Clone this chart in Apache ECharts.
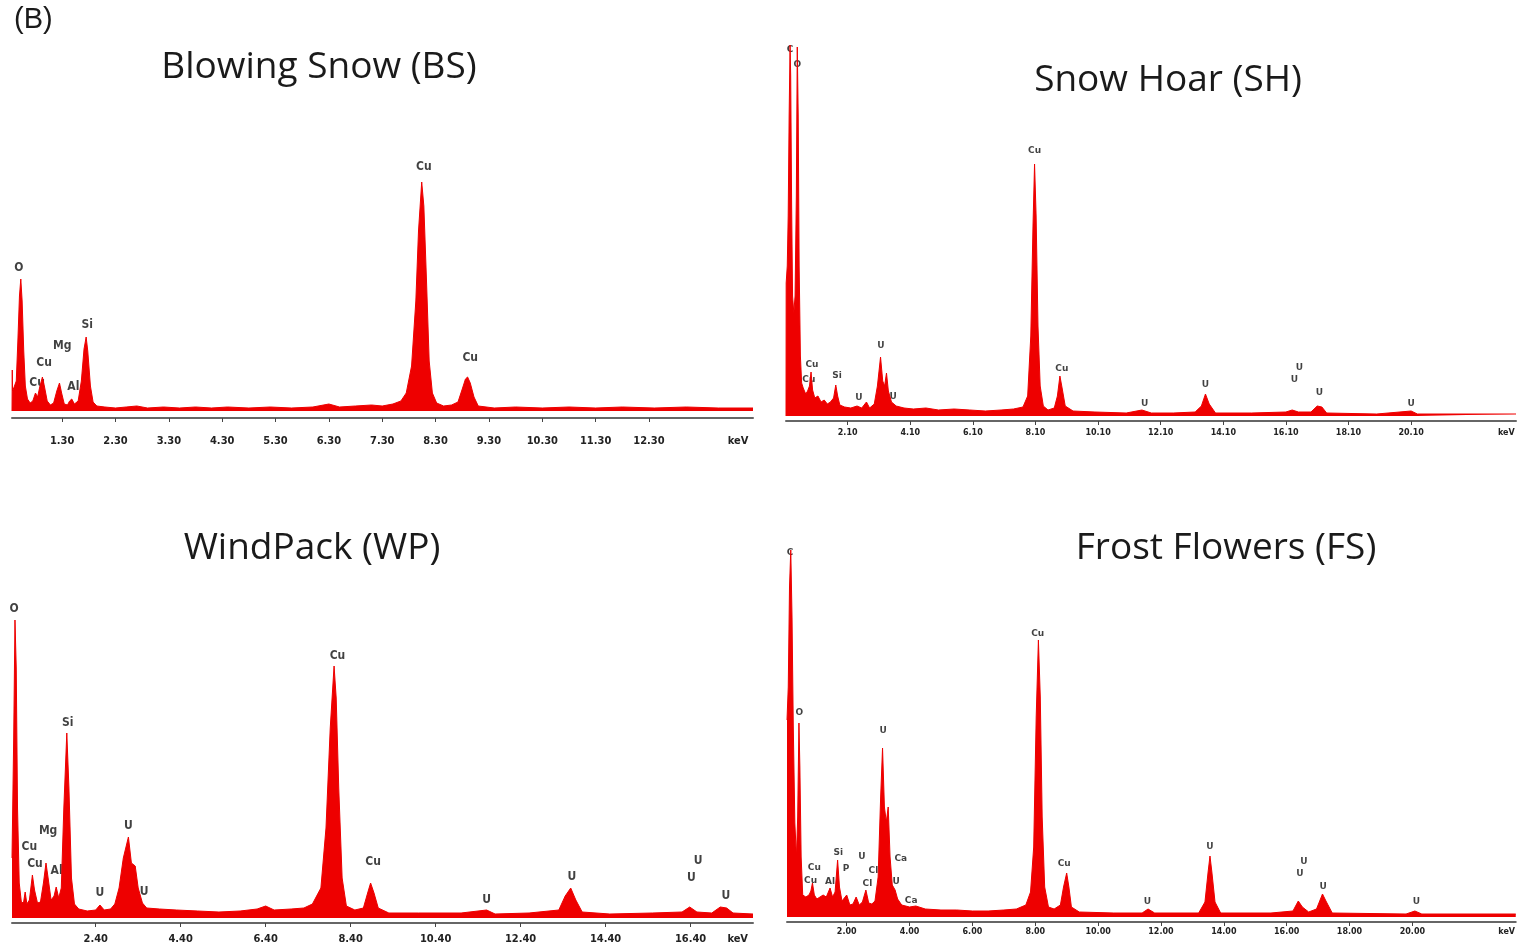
<!DOCTYPE html>
<html>
<head>
<meta charset="utf-8">
<title>EDS spectra</title>
<script src="https://cdn.jsdelivr.net/npm/echarts@6/dist/echarts.min.js"></script>
<style>
  html, body { margin: 0; padding: 0; background: #fff; }
  #main { width: 1518px; height: 950px; }
</style>
</head>
<body>
<div id="main"></div>
<script>
// spectra: [keV, counts] (counts = height above baseline)
const bsSpectrum = [
  [0.36, 0], [0.365, 41], [0.37, 20], [0.40, 24], [0.44, 30], [0.47, 70], [0.50, 115], [0.525, 132],
  [0.55, 110], [0.58, 60], [0.61, 25], [0.65, 12], [0.70, 8], [0.75, 10], [0.80, 18], [0.84, 14],
  [0.88, 24], [0.93, 34], [0.97, 24], [1.02, 10], [1.08, 6], [1.14, 8], [1.20, 20], [1.25, 28],
  [1.29, 18], [1.34, 7], [1.40, 6], [1.44, 10], [1.48, 12], [1.53, 7], [1.60, 10], [1.66, 30],
  [1.71, 62], [1.75, 74], [1.78, 60], [1.83, 25], [1.88, 9], [1.95, 5], [2.1, 4], [2.3, 3], [2.5, 4],
  [2.7, 5], [2.9, 3], [3.2, 4], [3.5, 3], [3.8, 4], [4.1, 3], [4.4, 4], [4.8, 3], [5.2, 4], [5.6, 3],
  [6.0, 4], [6.3, 7], [6.5, 4], [6.8, 5], [7.1, 6], [7.3, 5], [7.5, 7], [7.65, 10], [7.75, 18],
  [7.85, 45], [7.93, 110], [7.98, 180], [8.04, 229], [8.08, 205], [8.13, 130], [8.18, 50], [8.24, 18],
  [8.32, 8], [8.45, 5], [8.6, 6], [8.72, 9], [8.8, 22], [8.86, 32], [8.9, 34], [8.95, 28], [9.02, 14],
  [9.1, 5], [9.4, 3], [9.8, 4], [10.3, 3], [10.8, 4], [11.3, 3], [11.8, 4], [12.4, 3], [13.0, 4],
  [13.6, 3], [14.25, 3]
]
const shSpectrum = [
  [0.13, 0], [0.135, 133], [0.17, 150], [0.2, 200], [0.23, 300], [0.26, 371], [0.28, 340], [0.31, 210],
  [0.34, 120], [0.38, 103], [0.42, 120], [0.46, 220], [0.49, 369], [0.52, 300], [0.55, 150], [0.59, 60],
  [0.63, 33], [0.68, 28], [0.72, 30], [0.76, 22], [0.82, 25], [0.88, 30], [0.93, 44], [0.98, 26],
  [1.05, 18], [1.15, 20], [1.25, 14], [1.35, 16], [1.45, 12], [1.55, 14], [1.65, 18], [1.72, 31],
  [1.78, 20], [1.85, 11], [2.0, 9], [2.2, 8], [2.4, 10], [2.55, 8], [2.7, 14], [2.8, 8], [2.95, 12],
  [3.05, 30], [3.15, 59], [3.22, 35], [3.28, 30], [3.34, 43], [3.4, 25], [3.5, 14], [3.65, 10],
  [3.9, 8], [4.2, 7], [4.6, 8], [5.0, 6], [5.5, 7], [6.0, 6], [6.5, 5], [7.0, 6], [7.4, 7], [7.7, 9],
  [7.85, 20], [7.95, 80], [8.02, 190], [8.07, 252], [8.12, 200], [8.18, 90], [8.25, 30], [8.35, 10],
  [8.5, 6], [8.7, 8], [8.8, 20], [8.88, 40], [8.95, 28], [9.05, 10], [9.3, 5], [10.0, 4], [11.0, 3],
  [11.5, 6], [11.8, 3], [12.5, 3], [13.2, 4], [13.4, 10], [13.53, 22], [13.65, 12], [13.85, 3],
  [15.0, 3], [16.1, 4], [16.3, 6], [16.5, 4], [16.9, 4], [17.1, 10], [17.25, 9], [17.4, 3], [19.0, 2],
  [20.1, 5], [20.3, 2], [23.45, 2]
]
const wpSpectrum = [
  [0.43, 60], [0.47, 180], [0.50, 298], [0.53, 250], [0.56, 110], [0.60, 35], [0.65, 16], [0.70, 15],
  [0.74, 26], [0.78, 14], [0.84, 18], [0.91, 43], [0.96, 28], [1.03, 15], [1.10, 16], [1.17, 35],
  [1.23, 55], [1.28, 40], [1.35, 18], [1.42, 22], [1.47, 31], [1.53, 20], [1.59, 30], [1.65, 110],
  [1.72, 185], [1.77, 130], [1.83, 40], [1.9, 14], [2.0, 9], [2.2, 7], [2.4, 8], [2.5, 13], [2.6, 8],
  [2.75, 9], [2.85, 14], [2.95, 30], [3.05, 60], [3.17, 81], [3.24, 55], [3.33, 52], [3.4, 30],
  [3.5, 15], [3.6, 10], [3.9, 9], [4.3, 8], [4.8, 7], [5.3, 6], [5.8, 7], [6.2, 9], [6.4, 12], [6.6, 8],
  [7.0, 9], [7.3, 10], [7.5, 14], [7.7, 30], [7.82, 90], [7.92, 190], [8.01, 252], [8.06, 220],
  [8.12, 130], [8.2, 40], [8.3, 12], [8.5, 8], [8.7, 10], [8.8, 25], [8.87, 35], [8.95, 25], [9.05, 10],
  [9.3, 5], [10.0, 5], [11.0, 5], [11.6, 8], [11.8, 4], [12.6, 5], [13.3, 8], [13.45, 22], [13.58, 30],
  [13.7, 18], [13.85, 6], [14.5, 4], [15.5, 5], [16.2, 6], [16.38, 11], [16.55, 6], [16.9, 5],
  [17.1, 11], [17.25, 10], [17.4, 5], [17.87, 4]
]
const fsSpectrum = [
  [0.1, 197], [0.14, 230], [0.18, 330], [0.22, 367], [0.26, 300], [0.3, 190], [0.35, 94], [0.4, 60],
  [0.44, 100], [0.48, 194], [0.51, 150], [0.55, 60], [0.6, 22], [0.7, 20], [0.8, 22], [0.86, 26],
  [0.91, 34], [0.97, 22], [1.05, 18], [1.15, 20], [1.25, 22], [1.35, 20], [1.47, 29], [1.55, 20],
  [1.63, 25], [1.71, 57], [1.77, 30], [1.85, 16], [2.0, 22], [2.1, 12], [2.2, 13], [2.3, 20], [2.4, 12],
  [2.5, 15], [2.61, 27], [2.7, 14], [2.8, 13], [2.9, 16], [3.0, 40], [3.08, 120], [3.14, 169],
  [3.2, 110], [3.26, 95], [3.32, 110], [3.38, 60], [3.45, 32], [3.54, 27], [3.62, 18], [3.75, 12],
  [4.0, 10], [4.2, 11], [4.5, 8], [5.0, 7], [5.5, 7], [6.0, 6], [6.5, 6], [7.0, 7], [7.4, 8], [7.7, 12],
  [7.85, 25], [7.95, 70], [8.03, 200], [8.1, 277], [8.16, 220], [8.22, 100], [8.3, 30], [8.42, 10],
  [8.6, 8], [8.8, 12], [8.9, 30], [9.0, 44], [9.07, 30], [9.15, 10], [9.4, 5], [10.5, 4], [11.4, 4],
  [11.59, 8], [11.8, 4], [13.2, 4], [13.4, 15], [13.5, 45], [13.56, 61], [13.62, 45], [13.72, 15],
  [13.9, 4], [15.5, 4], [16.2, 6], [16.37, 16], [16.5, 10], [16.7, 5], [16.95, 8], [17.14, 23],
  [17.25, 16], [17.45, 4], [19.8, 3], [20.08, 6], [20.3, 3], [23.29, 3]
]

// peak labels: [keV, counts, element]
const bsPeaks = [
  [0.49, 143, 'O'], [0.96, 48, 'Cu'], [0.83, 28, 'Cu'], [1.30, 65, 'Mg'], [1.51, 24, 'Al'],
  [1.77, 86, 'Si'], [8.08, 244, 'Cu'], [8.95, 53, 'Cu']
]
const shPeaks = [
  [0.26, 366, 'C'], [0.49, 351, 'O'], [0.96, 51, 'Cu'], [0.86, 36, 'Cu'], [1.76, 40, 'Si'],
  [2.46, 18, 'U'], [3.16, 70, 'U'], [3.55, 19, 'U'], [8.07, 265, 'Cu'], [8.94, 47, 'Cu'],
  [11.59, 12, 'U'], [13.53, 31, 'U'], [16.37, 36, 'U'], [16.53, 48, 'U'], [17.17, 23, 'U'], [20.1, 12, 'U']
]
const wpPeaks = [
  [0.48, 309, 'O'], [0.84, 71, 'Cu'], [0.97, 54, 'Cu'], [1.28, 87, 'Mg'], [1.48, 47, 'Al'],
  [1.74, 195, 'Si'], [2.5, 25, 'U'], [3.17, 92, 'U'], [3.54, 26, 'U'], [8.09, 262, 'Cu'],
  [8.93, 56, 'Cu'], [11.6, 18, 'U'], [13.61, 41, 'U'], [16.42, 40, 'U'], [16.58, 57, 'U'], [17.23, 22, 'U']
]
const fsPeaks = [
  [0.2, 364, 'C'], [0.49, 204, 'O'], [0.97, 49, 'Cu'], [0.85, 36, 'Cu'], [1.47, 35, 'Al'],
  [1.73, 64, 'Si'], [1.98, 48, 'P'], [2.48, 60, 'U'], [2.85, 46, 'Cl'], [2.66, 33, 'Cl'],
  [3.16, 186, 'U'], [3.72, 58, 'Ca'], [3.57, 35, 'U'], [4.05, 16, 'Ca'], [8.08, 283, 'Cu'],
  [8.92, 53, 'Cu'], [11.57, 15, 'U'], [13.56, 70, 'U'], [16.42, 43, 'U'], [16.55, 55, 'U'],
  [17.16, 30, 'U'], [20.13, 15, 'U']
]

// tick positions (keV)
const bsTicks = [1.3, 2.3, 3.3, 4.3, 5.3, 6.3, 7.3, 8.3, 9.3, 10.3, 11.3, 12.3]
const shTicks = [2.1, 4.1, 6.1, 8.1, 10.1, 12.1, 14.1, 16.1, 18.1, 20.1]
const wpTicks = [2.4, 4.4, 6.4, 8.4, 10.4, 12.4, 14.4, 16.4]
const fsTicks = [2, 4, 6, 8, 10, 12, 14, 16, 18, 20]
const titles = ['Blowing Snow (BS)', 'Snow Hoar (SH)', 'WindPack (WP)', 'Frost Flowers (FS)']

// layout of the four panels
const narrow = "'DejaVu Sans Condensed', 'Liberation Sans Narrow', 'Roboto', sans-serif"
const panels = [
  { spec: bsSpectrum, peaks: bsPeaks, ticks: bsTicks, unitAt: 13.97, min: 0.36, max: 14.25,
    grid: { left: 12, top: 30, width: 741, height: 381 }, offset: 7, margin: 18,
    font: narrow, tickSize: 11, peakSize: 12, title: [319, 67] },
  { spec: shSpectrum, peaks: shPeaks, ticks: shTicks, unitAt: 23.14, min: 0.13, max: 23.45,
    grid: { left: 786, top: 40, width: 730, height: 376 }, offset: 5, margin: 8,
    font: "'DejaVu Sans', sans-serif", tickSize: 8, peakSize: 9, title: [1168, 80] },
  { spec: wpSpectrum, peaks: wpPeaks, ticks: wpTicks, unitAt: 17.51, min: 0.43, max: 17.87,
    grid: { left: 12, top: 560, width: 741, height: 358 }, offset: 5, margin: 11,
    font: narrow, tickSize: 11, peakSize: 12, title: [312, 548] },
  { spec: fsSpectrum, peaks: fsPeaks, ticks: fsTicks, unitAt: 23.0, min: 0.1, max: 23.29,
    grid: { left: 787, top: 540, width: 729, height: 377 }, offset: 5, margin: 6,
    font: "'DejaVu Sans', sans-serif", tickSize: 8, peakSize: 9, title: [1226, 548] }
]

const red = '#ee0000'
let grid = [], xAxis = [], yAxis = [], series = [], graphic = []

panels.forEach((p, i) => {
  grid.push(p.grid)
  xAxis.push({
    type: 'value', gridIndex: i, min: p.min, max: p.max, offset: p.offset,
    splitLine: { show: false },
    axisLine: { onZero: false, lineStyle: { color: '#666', width: 2 } },
    axisTick: { customValues: p.ticks, length: 4, lineStyle: { color: '#444', width: 1 } },
    axisLabel: {
      customValues: p.ticks.concat([p.unitAt]),
      margin: p.margin,
      fontFamily: p.font, fontWeight: 'bold', fontSize: p.tickSize, color: '#222',
      formatter: (v) => (v > p.ticks[p.ticks.length - 1] + 0.5 ? 'keV' : v.toFixed(2)),
    },
  })
  yAxis.push({ type: 'value', gridIndex: i, min: 0, max: p.grid.height, show: false })
  series.push({
    type: 'line', xAxisIndex: i, yAxisIndex: i, data: p.spec,
    symbol: 'none', lineStyle: { color: red, width: 1 },
    areaStyle: { color: red, opacity: 1 },
  })
  series.push({
    type: 'scatter', xAxisIndex: i, yAxisIndex: i, data: p.peaks,
    symbolSize: 0, silent: true,
    label: {
      show: true, position: 'inside', formatter: (d) => d.data[2],
      color: '#111', fontFamily: p.font, fontWeight: 'bold', fontSize: p.peakSize,
    },
  })
  graphic.push({
    type: 'text', x: p.title[0], y: p.title[1],
    style: { text: titles[i], fill: '#1a1a1a', font: "37px 'Open Sans', sans-serif",
      textAlign: 'center', textVerticalAlign: 'middle' },
  })
})
graphic.push({
  type: 'text', x: 14, y: 20,
  style: { text: '(B)', fill: '#1a1a1a', font: "29px 'Liberation Sans', sans-serif", textVerticalAlign: 'middle' },
})

var myChart = echarts.init(document.getElementById('main'))
myChart.setOption({
  animation: false,
  backgroundColor: '#fff',
  grid, xAxis, yAxis, series, graphic,
})
</script>
</body>
</html>
